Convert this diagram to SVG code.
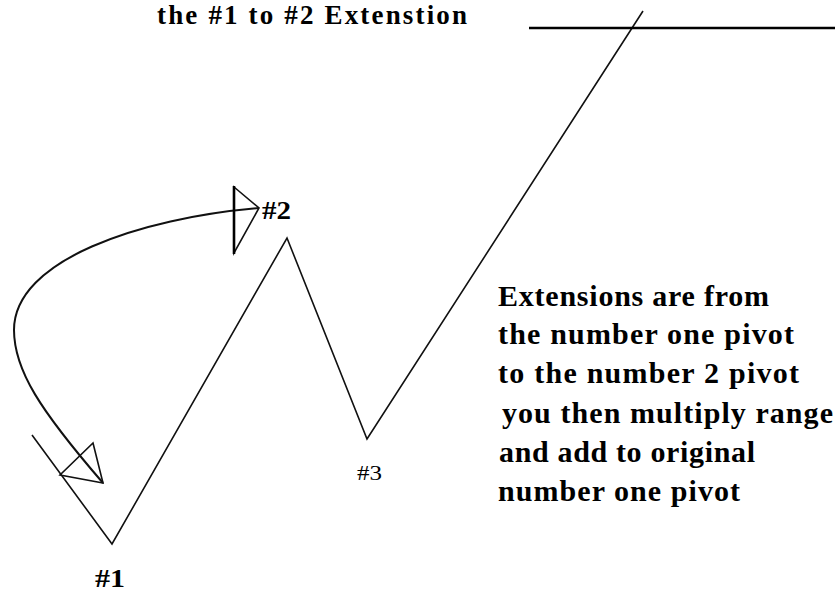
<svg xmlns="http://www.w3.org/2000/svg" width="835" height="594" viewBox="0 0 835 594">
<style>
  .ln { fill: none; stroke: #111; stroke-width: 1.6; stroke-linejoin: miter; }
  .crv { fill: none; stroke: #111; stroke-width: 2; }
  .thick { fill: none; stroke: #000; stroke-width: 2.6; }
  .b { font-family: "Liberation Serif", "Times New Roman", serif; font-weight: bold; fill: #000; }
  .r { font-family: "Liberation Serif", "Times New Roman", serif; fill: #000; }
  .big { font-size: 30px; }
</style>
<rect width="835" height="594" fill="#fff"/>
<g id="connectors">
  <polyline class="ln" points="32,435 112,544 287,238 367,439 643,11"/>
  <line class="thick" x1="529" y1="28" x2="835" y2="28"/>
  <path class="crv" d="M259,208 C140,218 14,260 14,330 C14,370 40,410 103,483"/>
  <polygon class="ln" points="234,187 259,208 234,253"/>
  <line class="thick" x1="234" y1="186" x2="234" y2="254"/>
  <polygon class="ln" points="93,443 103,483 60,475"/>
</g>
<g id="title"><text class="b" x="157" y="24" font-size="27" textLength="310">the #1 to #2 Extenstion</text></g>
<g id="pivot1"><text class="b" x="95" y="587" font-size="26" textLength="30" lengthAdjust="spacingAndGlyphs">#1</text></g>
<g id="pivot2"><text class="b" x="262" y="219" font-size="26" textLength="29" lengthAdjust="spacingAndGlyphs">#2</text></g>
<g id="pivot3"><text class="r" x="357" y="480" font-size="20" textLength="25" lengthAdjust="spacingAndGlyphs">#3</text></g>
<g id="note">
  <text class="b big" x="498" y="306" textLength="271">Extensions are from</text>
  <text class="b big" x="498" y="344" textLength="296">the number one pivot</text>
  <text class="b big" x="498" y="383" textLength="301">to the number 2 pivot</text>
  <text class="b big" x="502" y="423" textLength="331" xml:space="preserve">you then multiply range</text>
  <text class="b big" x="499" y="462" textLength="256">and add to original</text>
  <text class="b big" x="498" y="501" textLength="242">number one pivot</text>
</g>
</svg>
